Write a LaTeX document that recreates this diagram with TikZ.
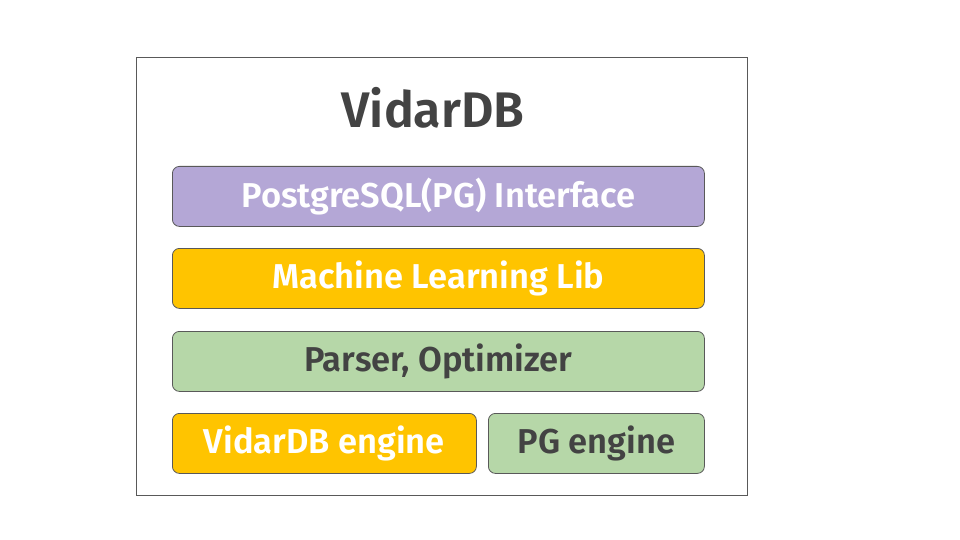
\documentclass[tikz,border=0pt]{standalone}
\usepackage{fontspec}
\setmainfont{Fira Sans}
\newfontfamily\semib{Fira Sans SemiBold}
\begin{document}
\begin{tikzpicture}[x=1pt,y=-1pt,
  layer/.style={draw=black!65,line width=0.8pt,rounded corners=7pt,anchor=north west,inner sep=0pt,font=\fontsize{34.5}{39}\semib},
  lightbox/.style={layer,text=white},
  darkbox/.style={layer,text=txtgray}]
\definecolor{txtgray}{HTML}{434343}
\definecolor{purp}{HTML}{B4A7D6}
\definecolor{gold}{HTML}{FFC400}
\definecolor{lgreen}{HTML}{B6D7A8}
\useasboundingbox (0,0) rectangle (960,540);
\node[draw=black!65,line width=0.8pt,minimum width=611pt,minimum height=438pt,anchor=north west,inner sep=0pt] (outer) at (136,57) {};
\node[text=txtgray,font=\fontsize{50}{56}\semib] (title) at (433,108) {VidarDB};
\node[lightbox,fill=purp,minimum width=532pt,minimum height=60pt] (pg) at (172,166) {\raisebox{-1.5pt}{PostgreSQL(PG) Interface}};
\node[lightbox,fill=gold,minimum width=532pt,minimum height=60pt] (ml) at (172,248) {\raisebox{-1.5pt}{Machine Learning Lib}};
\node[darkbox,fill=lgreen,minimum width=532pt,minimum height=60pt] (po) at (172,331) {\raisebox{-1.5pt}{Parser, Optimizer}};
\node[lightbox,fill=gold,minimum width=304pt,minimum height=60pt] (ve) at (172,413) {\raisebox{-1.5pt}{VidarDB engine}};
\node[darkbox,fill=lgreen,minimum width=216pt,minimum height=60pt] (pe) at (488,413) {\raisebox{-1.5pt}{PG engine}};
\end{tikzpicture}
\end{document}
